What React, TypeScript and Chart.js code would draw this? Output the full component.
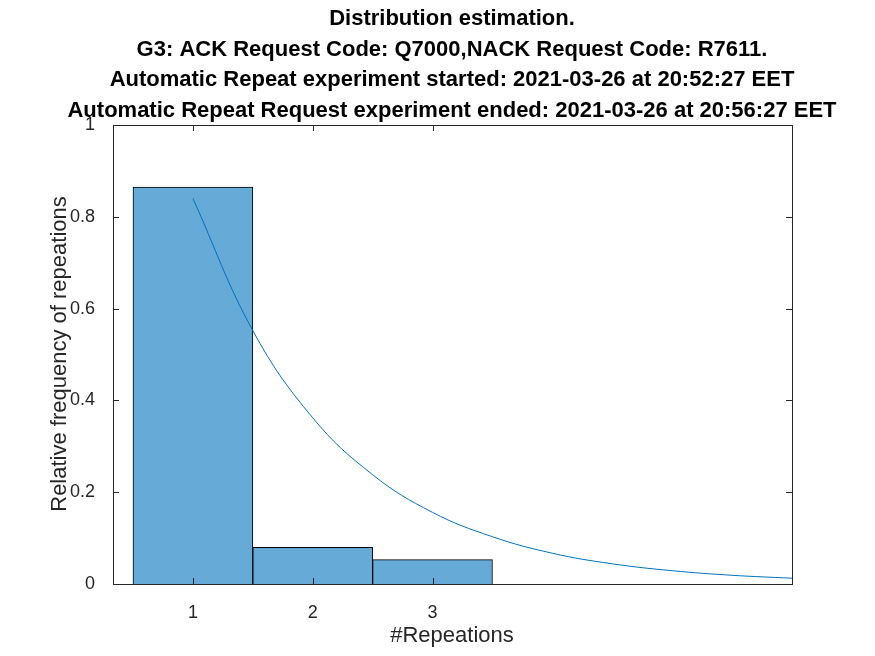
import { useEffect, useRef } from 'react'
import { Chart, registerables } from 'chart.js'

Chart.register(...registerables)

const titleLines = [
  'Distribution estimation.',
  'G3: ACK Request Code: Q7000,NACK Request Code: R7611.',
  'Automatic Repeat experiment started: 2021-03-26 at 20:52:27 EET',
  'Automatic Repeat Request experiment ended: 2021-03-26 at 20:56:27 EET',
]
const repeats = [1, 2, 3]
const freqs = [0.865, 0.08, 0.053]
const fitX = [1, 1.5, 2, 2.5, 3, 3.5, 4, 4.5, 5, 5.5, 6]
const fitY = [0.84, 0.552, 0.362, 0.238, 0.156, 0.103, 0.067, 0.044, 0.029, 0.019, 0.0126]
const yTicks = [0, 0.2, 0.4, 0.6, 0.8, 1]

const FONT = '"Liberation Sans", Arial, sans-serif'
const INK = '#262626'

const framePlugin = {
  id: 'frame',
  afterDraw(chart: any) {
    const { ctx, chartArea: a, scales } = chart
    ctx.save()
    ctx.strokeStyle = INK
    ctx.lineWidth = 1
    ctx.strokeRect(a.left + 0.5, a.top + 0.5, a.right - a.left, a.bottom - a.top)
    ctx.beginPath()
    for (const v of yTicks) {
      const y = Math.round(scales.y.getPixelForValue(v)) + 0.5
      ctx.moveTo(a.left, y); ctx.lineTo(a.left + 6, y)
      ctx.moveTo(a.right, y); ctx.lineTo(a.right - 6, y)
    }
    for (const v of repeats) {
      const x = Math.round(scales.x.getPixelForValue(v)) + 0.5
      ctx.moveTo(x, a.bottom); ctx.lineTo(x, a.bottom - 6)
      ctx.moveTo(x, a.top); ctx.lineTo(x, a.top + 6)
    }
    ctx.stroke()
    ctx.textAlign = 'center'
    ctx.textBaseline = 'middle'
    ctx.fillStyle = '#000'
    ctx.font = `bold 22px ${FONT}`
    titleLines.forEach((t, i) => ctx.fillText(t, 452, 19 + i * 30.5))
    ctx.fillStyle = INK
    ctx.font = `22px ${FONT}`
    ctx.fillText('#Repeations', 452, 636)
    ctx.translate(60, 354)
    ctx.rotate(-Math.PI / 2)
    ctx.fillText('Relative frequency of repeations', 0, 0)
    ctx.restore()
  },
}

export default function App() {
  const ref = useRef<HTMLCanvasElement>(null)

  useEffect(() => {
    document.body.style.margin = '0'
    if (!ref.current) return
    const chart = new Chart(ref.current, {
      type: 'bar',
      data: {
        datasets: [
          {
            type: 'line',
            data: fitX.map((x, i) => ({ x, y: fitY[i] })),
            borderColor: '#0072bd',
            borderWidth: 1,
            pointRadius: 0,
            tension: 0.4,
          } as any,
          {
            type: 'bar',
            data: repeats.map((x, i) => ({ x, y: freqs[i] })),
            backgroundColor: '#66aad7',
            borderColor: '#000',
            borderWidth: 1,
            barPercentage: 1,
            categoryPercentage: 1,
          },
        ],
      },
      options: {
        animation: false,
        responsive: false,
        layout: { padding: { top: 125, right: 83, left: 0, bottom: 0 } },
        plugins: { legend: { display: false }, tooltip: { enabled: false } },
        scales: {
          x: {
            type: 'linear',
            min: 0.333,
            max: 6,
            offset: false,
            grid: { display: false },
            border: { display: false },
            afterBuildTicks: (s: any) => { s.ticks = repeats.map((v) => ({ value: v })) },
            afterFit: (s: any) => { s.height = 72 },
            ticks: { color: INK, font: { family: FONT, size: 18 }, padding: 10 },
          },
          y: {
            min: 0,
            max: 1,
            grid: { display: false },
            border: { display: false },
            afterBuildTicks: (s: any) => { s.ticks = yTicks.map((v) => ({ value: v })) },
            afterFit: (s: any) => { s.width = 113 },
            ticks: {
              color: INK,
              font: { family: FONT, size: 18 },
              padding: 10,
              callback: (v: any) => String(Number(v)),
            },
          },
        },
      },
      plugins: [framePlugin],
    })
    return () => chart.destroy()
  }, [])

  return <canvas ref={ref} width={875} height={656} />
}
